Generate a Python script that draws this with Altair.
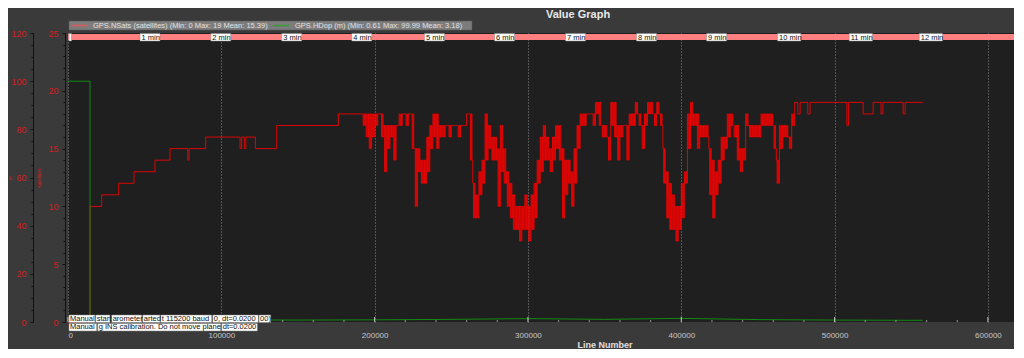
import altair as alt
import pandas as pd

W, H = 946, 289
X_MAX = 617000

# ---------------- data ----------------
# GPS.NSats: early step section (line number, satellites)
nsats_line_early = [0, 14350, 22000, 33070, 43050, 56750, 66540, 78080, 79000, 89820,
                    112200, 113200, 115000, 116000, 122200, 136140, 176320]
nsats_val_early = [0, 10, 11, 12, 13, 14, 15, 14, 15, 16, 15, 16, 15, 16, 15, 17, 18]

# GPS.NSats: noisy section, read as high / low value per 2000-line bin starting at 190000
noisy_start = 190000
noisy_bin = 2000
noisy_hi = [18, 18, 18, 18, 18, 18, 18, 18, 17, 17, 17, 17, 17, 18, 18, 18, 18, 18, 15, 15,
            14, 14, 16, 17, 18, 18, 17, 17, 17, 17, 17, 17, 17, 17, 17, 18, 18, 12, 11, 13,
            14, 18, 17, 16, 16, 15, 17, 15, 13, 12, 11, 10, 10, 10, 11, 10, 11, 12, 14, 16,
            17, 16, 15, 16, 17, 17, 15, 14, 14, 13, 15, 17, 18, 18, 18, 18, 18, 19, 19, 17,
            17, 16, 19, 19, 17, 17, 17, 17, 18, 18, 19, 18, 17, 18, 19, 19, 18, 19, 18, 15,
            13, 12, 11, 10, 10, 12, 13, 18, 19, 18, 18, 17, 17, 17, 15, 14, 13, 14, 16, 16,
            18, 18, 17, 17, 15, 15, 18, 17, 17, 17, 17, 18, 18, 18, 18, 17, 14, 17, 17, 17,
            16, 18]
noisy_lo = [18, 17, 16, 15, 16, 17, 18, 16, 13, 15, 16, 14, 17, 17, 18, 17, 18, 15, 10, 13,
            12, 12, 13, 15, 16, 15, 16, 16, 17, 16, 17, 17, 16, 17, 17, 18, 14, 9, 9, 11,
            12, 14, 15, 14, 14, 10, 13, 12, 10, 9, 8, 8, 7, 8, 8, 7, 8, 9, 12, 13,
            14, 14, 13, 14, 15, 14, 9, 11, 12, 10, 12, 15, 17, 17, 18, 18, 17, 18, 17, 16,
            16, 14, 17, 16, 14, 16, 17, 14, 17, 17, 18, 17, 15, 17, 18, 18, 17, 18, 17, 12,
            9, 8, 8, 7, 8, 9, 12, 15, 17, 17, 15, 16, 16, 16, 11, 9, 11, 12, 14, 15,
            16, 17, 16, 14, 13, 14, 17, 16, 16, 16, 16, 17, 17, 17, 17, 15, 12, 15, 16, 16,
            15, 17]

# GPS.NSats: tail at 19 with occasional dips
nsats_line_tail = [474000, 476000, 477500, 482500, 484000, 508000, 509000, 518600, 525100,
                   530300, 531500, 544700, 546000, 557500]
nsats_val_tail = [19, 18, 19, 18, 19, 17, 19, 18, 19, 18, 19, 18, 19, 19]

# GPS.HDop (m)
hdop_line = [0, 14350, 14350, 40000, 90000, 150000, 200000, 250000, 300000, 350000,
             400000, 450000, 500000, 557500]
hdop_val = [99.99, 99.99, 1.3, 1.0, 0.9, 0.8, 0.9, 1.1, 1.4, 1.1, 1.5, 1.0, 0.8, 0.7]

# time markers on the top band
minute_labels = ["1 min", "2 min", "3 min", "4 min", "5 min", "6 min", "7 min", "8 min",
                 "9 min", "10 min", "11 min", "12 min"]
minute_lines = [46970, 93150, 139400, 185100, 232500, 278200, 324500, 370800, 416500,
                462800, 509500, 555200]

# message annotations (visible, overlapping pieces)
msg1_text = ["Manual", "start", "arometer", "arted", "t 115200 baud", "0, dt=0.0200", "00)"]
msg1_start = [650, 18070, 28500, 48730, 60470, 94390, 124600]
msg1_end = [17600, 27400, 48080, 60000, 93740, 124140, 132200]
msg2_text = ["Manual", "g INS calibration. Do not move plane", "dt=0.0200"]
msg2_start = [650, 19370, 100260]
msg2_end = [18720, 99610, 123500]

x_tick_values = [0, 100000, 200000, 300000, 400000, 500000, 600000]
x_minor_values = [v for v in range(20000, 620000, 20000) if v % 100000 != 0]

legend1 = "GPS.NSats (satellites)  (Min: 0 Max: 19 Mean: 15.39)"
legend2 = "GPS.HDop (m)  (Min: 0.61 Max: 99.99 Mean: 3.18)"

# ---------------- tables ----------------
red_x = list(nsats_line_early)
red_y = list(nsats_val_early)
q = noisy_bin // 4
for k, (hi, lo) in enumerate(zip(noisy_hi, noisy_lo)):
    b = noisy_start + noisy_bin * k
    red_x += [b, b + q, b + 2 * q, b + 3 * q]
    red_y += [hi, lo, hi, lo]
red_x += nsats_line_tail
red_y += nsats_val_tail
red_df = pd.DataFrame({"line": red_x, "sats": red_y, "i": range(len(red_x))})
green_df = pd.DataFrame({"line": hdop_line, "hdop": hdop_val, "i": range(len(hdop_line))})

px_to_line = X_MAX / W
min_df = pd.DataFrame({
    "line": minute_lines,
    "end": [l + (3.3 * len(t) + 3.5) * px_to_line for l, t in zip(minute_lines, minute_labels)],
    "label": minute_labels,
})
msg1_df = pd.DataFrame({"line": msg1_start, "end": msg1_end, "label": msg1_text})
msg2_df = pd.DataFrame({"line": msg2_start, "end": msg2_end, "label": msg2_text})
minor_df = pd.DataFrame({"line": x_minor_values})
major_df = pd.DataFrame({"line": x_tick_values})
one = pd.DataFrame({"t": [""]})

FONT = "Liberation Sans"
RED_LBL = "#d42020"

xscale = alt.Scale(domain=[0, X_MAX], nice=False, zero=False)
xaxis = alt.Axis(values=x_tick_values, format="d", labelColor="#c8c8c8", labelFontSize=8,
                 labelFont=FONT, grid=True, gridColor="#8a8a8a", gridDash=[1, 2],
                 gridWidth=1, ticks=False, domain=False, labelPadding=9, title=None)


def X(field="line"):
    return alt.X(f"{field}:Q", scale=xscale, axis=xaxis, title=None)


def X2(field="end"):
    return alt.X2(f"{field}:Q")


band = alt.Chart(one).mark_rect(color="#ff8080").encode(
    x=alt.value(0), x2=alt.value(W), y=alt.value(1), y2=alt.value(7))
band_mark = alt.Chart(one).mark_rect(fill="white", stroke="#888888", strokeWidth=0.5).encode(
    x=alt.value(1), x2=alt.value(3.5), y=alt.value(0.5), y2=alt.value(8))

min_box = alt.Chart(min_df).mark_rect(fill="white", stroke="#888888", strokeWidth=0.5).encode(
    x=X(), x2=X2(), y=alt.value(0.5), y2=alt.value(8))
min_txt = alt.Chart(min_df).mark_text(align="left", baseline="middle", dx=1.5, fontSize=7.5,
                                      font=FONT, color="#111111").encode(
    x=X(), y=alt.value(4.5), text="label:N")

red = alt.Chart(red_df).mark_line(interpolate="step-after", color="#ff0000", strokeWidth=0.85).encode(
    x=X(),
    y=alt.Y("sats:Q", scale=alt.Scale(domain=[0, 25], nice=False),
            axis=alt.Axis(orient="left", offset=3, values=[0, 5, 10, 15, 20, 25],
                          labelColor=RED_LBL, labelFontSize=9, labelFont=FONT,
                          tickColor="#111111", tickSize=3, domainColor="#111111",
                          labelPadding=4, grid=False, title="satellites",
                          titleColor=RED_LBL, titleFontSize=5, titleFontWeight="normal",
                          titleFont=FONT, titlePadding=6)),
    order="i:Q")

green = alt.Chart(green_df).mark_line(color="#138a13", strokeWidth=1).encode(
    x=X(),
    y=alt.Y("hdop:Q", scale=alt.Scale(domain=[0, 120], nice=False),
            axis=alt.Axis(orient="left", offset=35, values=[0, 20, 40, 60, 80, 100, 120],
                          labelColor=RED_LBL, labelFontSize=9, labelFont=FONT,
                          tickColor="#111111", tickSize=3, domainColor="#111111",
                          labelPadding=4, grid=False, title=None)),
    order="i:Q")

m_title = alt.Chart(pd.DataFrame({"t": ["m"]})).mark_text(
    align="center", baseline="middle", fontSize=5, angle=270, font=FONT,
    color=RED_LBL).encode(x=alt.value(-58.5), y=alt.value(145), text="t:N")

minor_y1 = alt.Chart(green_df).mark_point(opacity=0).encode(
    x=X(),
    y=alt.Y("hdop:Q", scale=alt.Scale(domain=[0, 120], nice=False),
            axis=alt.Axis(orient="left", offset=35, values=list(range(0, 121, 5)),
                          labels=False, domain=False, grid=False, tickSize=2,
                          tickColor="#111111", title=None)))
minor_y2 = alt.Chart(red_df).mark_point(opacity=0).encode(
    x=X(),
    y=alt.Y("sats:Q", scale=alt.Scale(domain=[0, 25], nice=False),
            axis=alt.Axis(orient="left", offset=3, values=list(range(0, 26)),
                          labels=False, domain=False, grid=False, tickSize=2,
                          tickColor="#111111", title=None)))

xminor = alt.Chart(minor_df).mark_rule(color="#9a9a9a", strokeWidth=1).encode(
    x=X(), y=alt.value(H - 2), y2=alt.value(H))
xmajor = alt.Chart(major_df).mark_rule(color="#cfcfcf", strokeWidth=1).encode(
    x=X(), y=alt.value(H - 5), y2=alt.value(H))

m1_box = alt.Chart(msg1_df).mark_rect(fill="white", stroke="#808080", strokeWidth=0.5).encode(
    x=X(), x2=X2(), y=alt.value(282), y2=alt.value(289.5))
m1_txt = alt.Chart(msg1_df).mark_text(align="left", baseline="middle", dx=1, fontSize=7.5,
                                      font=FONT, color="#111111").encode(
    x=X(), y=alt.value(286), text="label:N")
m2_box = alt.Chart(msg2_df).mark_rect(fill="white", stroke="#808080", strokeWidth=0.5).encode(
    x=X(), x2=X2(), y=alt.value(290.5), y2=alt.value(298))
m2_txt = alt.Chart(msg2_df).mark_text(align="left", baseline="middle", dx=1, fontSize=7.5,
                                      font=FONT, color="#111111").encode(
    x=X(), y=alt.value(294.3), text="label:N")

leg_box = alt.Chart(one).mark_rect(fill="#7c7c7c", stroke="#5a5a5a", strokeWidth=0.5).encode(
    x=alt.value(1), x2=alt.value(404), y=alt.value(-12), y2=alt.value(-3))
leg_sw1 = alt.Chart(one).mark_rule(color="#e05a5a", strokeWidth=1.5).encode(
    x=alt.value(4), x2=alt.value(20), y=alt.value(-7.5))
leg_sw2 = alt.Chart(one).mark_rule(color="#3a9a3a", strokeWidth=1.5).encode(
    x=alt.value(205), x2=alt.value(221), y=alt.value(-7.5))
leg_t1 = alt.Chart(pd.DataFrame({"t": [legend1]})).mark_text(
    align="left", baseline="middle", fontSize=7.5, font=FONT, color="#e2e2e2").encode(
    x=alt.value(25), y=alt.value(-7.5), text="t:N")
leg_t2 = alt.Chart(pd.DataFrame({"t": [legend2]})).mark_text(
    align="left", baseline="middle", fontSize=7.5, font=FONT, color="#e2e2e2").encode(
    x=alt.value(227), y=alt.value(-7.5), text="t:N")

title = alt.Chart(pd.DataFrame({"t": ["Value Graph"]})).mark_text(
    align="center", baseline="middle", fontSize=11, fontWeight="bold", font=FONT,
    color="#e8e8e8").encode(x=alt.value(510), y=alt.value(-18), text="t:N")
xtitle = alt.Chart(pd.DataFrame({"t": ["Line Number"]})).mark_text(
    align="center", baseline="middle", fontSize=9, fontWeight="bold", font=FONT,
    color="#e0e0e0").encode(x=alt.value(537), y=alt.value(312), text="t:N")

chart = alt.layer(
    band, band_mark, min_box, min_txt, red, green, minor_y1, minor_y2, xminor, xmajor,
    m1_box, m1_txt, m2_box, m2_txt, leg_box, leg_sw1, leg_sw2, leg_t1, leg_t2,
    title, xtitle, m_title,
).resolve_scale(y="independent").properties(
    width=W, height=H,
    autosize=alt.AutoSizeParams(type="none"),
    padding={"left": 60, "top": 25, "right": 0, "bottom": 27},
    background="#3a3a3a",
).configure_view(fill="#1f1f1f", stroke=None)

chart.save("out.html", embed_options={"renderer": "svg", "actions": False})
